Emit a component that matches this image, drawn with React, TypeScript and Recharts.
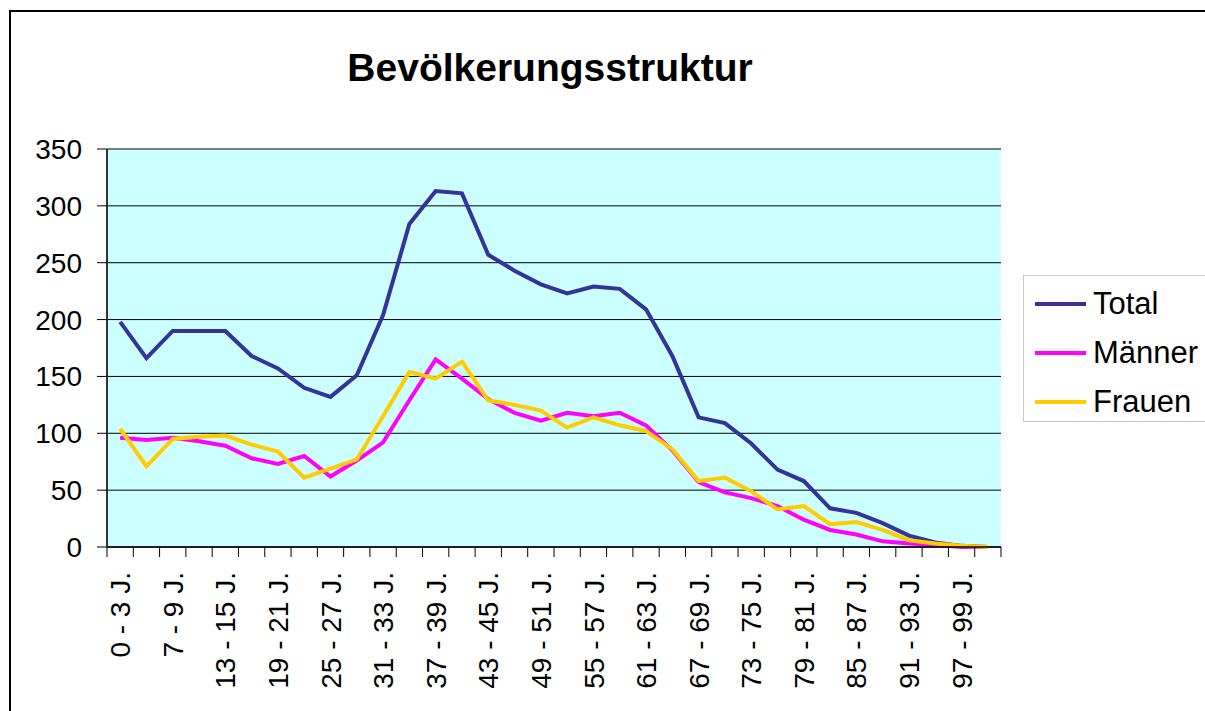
import { LineChart, Line, XAxis, YAxis, CartesianGrid, Legend } from 'recharts'

// Altersgruppen (jede zweite wird beschriftet)
const ageGroups = [
  '0 - 3 J.', '4 - 6 J.', '7 - 9 J.', '10 - 12 J.', '13 - 15 J.', '16 - 18 J.',
  '19 - 21 J.', '22 - 24 J.', '25 - 27 J.', '28 - 30 J.', '31 - 33 J.', '34 - 36 J.',
  '37 - 39 J.', '40 - 42 J.', '43 - 45 J.', '46 - 48 J.', '49 - 51 J.', '52 - 54 J.',
  '55 - 57 J.', '58 - 60 J.', '61 - 63 J.', '64 - 66 J.', '67 - 69 J.', '70 - 72 J.',
  '73 - 75 J.', '76 - 78 J.', '79 - 81 J.', '82 - 84 J.', '85 - 87 J.', '88 - 90 J.',
  '91 - 93 J.', '94 - 96 J.', '97 - 99 J.', '100 J. +',
]

const total = [198, 166, 190, 190, 190, 168, 157, 140, 132, 151, 204, 284, 313, 311, 257, 243, 231, 223, 229, 227, 209, 168, 114, 109, 91, 68, 58, 34, 30, 21, 10, 4, 1, 0]
const maenner = [96, 94, 96, 93, 89, 78, 73, 80, 62, 76, 92, 129, 165, 148, 130, 118, 111, 118, 115, 118, 107, 85, 57, 48, 43, 36, 24, 15, 11, 5, 3, 2, 0, 0]
const frauen = [104, 71, 95, 97, 98, 90, 84, 61, 69, 77, 115, 154, 148, 163, 129, 125, 120, 105, 114, 107, 102, 86, 58, 61, 49, 33, 36, 20, 22, 15, 6, 3, 1, 0]

const yTicks = [0, 50, 100, 150, 200, 250, 300, 350]

const seriesNames = ['Total', 'Männer', 'Frauen']
const seriesColors = ['#333399', '#FF00FF', '#FFCC00']

const data = ageGroups.map((age, i) => ({
  age,
  Total: total[i],
  Männer: maenner[i],
  Frauen: frauen[i],
}))

const W = 1197
const H = 703
const margin = { top: 141, right: 204, left: 0, bottom: 0 }
const Y_AXIS_W = 99
const X_AXIS_H = 164
const plotWidth = W - margin.left - margin.right - Y_AXIS_W
const halfBand = plotWidth / ageGroups.length / 2

// Striche an den Kategoriegrenzen, Text nur bei jeder zweiten Gruppe
const AgeTick = (props: any) => {
  const { x, y, payload } = props
  const i = payload.index
  return (
    <g>
      <line x1={x - halfBand} x2={x - halfBand} y1={y} y2={y + 10} stroke="#000" />
      {i === ageGroups.length - 1 && (
        <line x1={x + halfBand} x2={x + halfBand} y1={y} y2={y + 10} stroke="#000" />
      )}
      {i % 2 === 0 && (
        <text
          transform={`translate(${x},${y + 25}) rotate(-90)`}
          textAnchor="end"
          dy="0.36em"
          fontSize={28}
          fill="#000"
        >
          {payload.value}
        </text>
      )}
    </g>
  )
}

const LegendBox = ({ payload }: any) => {
  const items = [...(payload ?? [])].sort(
    (a: any, b: any) => seriesNames.indexOf(a.value) - seriesNames.indexOf(b.value)
  )
  return (
    <div
      style={{
        width: 190,
        height: 147,
        border: '1px solid #c8c8c8',
        borderRight: 'none',
        background: '#fff',
        paddingTop: 3,
        boxSizing: 'border-box',
      }}
    >
      {items.map((p: any) => (
        <div key={p.value} style={{ height: 49, display: 'flex', alignItems: 'center', whiteSpace: 'nowrap' }}>
          <span style={{ display: 'inline-block', width: 51, height: 4, background: p.color, marginLeft: 11, marginRight: 7 }} />
          <span style={{ fontSize: 31, lineHeight: '46px', color: '#000' }}>{p.value}</span>
        </div>
      ))}
    </div>
  )
}

export default function App() {
  return (
    <div
      style={{
        position: 'fixed',
        left: 0,
        top: 0,
        width: 1205,
        height: 711,
        overflow: 'hidden',
        background: '#fff',
        fontFamily: '"Liberation Sans", Arial, sans-serif',
      }}
    >
      <div
        style={{
          position: 'absolute',
          left: 9,
          top: 10,
          width: 1400,
          height: 900,
          borderLeft: '2px solid #000',
          borderTop: '2px solid #000',
        }}
      />
      <div
        style={{
          position: 'absolute',
          left: 8,
          top: 49,
          width: 1084,
          textAlign: 'center',
          fontSize: 39,
          lineHeight: '38px',
          fontWeight: 'bold',
          color: '#000',
        }}
      >
        Bevölkerungsstruktur
      </div>
      <div style={{ position: 'absolute', left: 8, top: 8 }}>
        <LineChart width={W} height={H} data={data} margin={margin}>
          <CartesianGrid vertical={false} stroke="#000" fill="#CCFFFF" fillOpacity={1} />
          <XAxis
            dataKey="age"
            scale="band"
            interval={0}
            height={X_AXIS_H}
            tickSize={0}
            tickMargin={0}
            tickLine={false}
            axisLine={{ stroke: '#000', strokeWidth: 1.5 }}
            tick={<AgeTick />}
          />
          <XAxis
            xAxisId="frame"
            orientation="top"
            dataKey="age"
            height={0}
            tick={false}
            tickLine={false}
            axisLine={{ stroke: '#808080', strokeWidth: 2 }}
          />
          <YAxis
            domain={[0, 350]}
            ticks={yTicks}
            width={Y_AXIS_W}
            tickSize={10}
            tickMargin={15}
            tickLine={{ stroke: '#000' }}
            axisLine={{ stroke: '#333', strokeWidth: 2 }}
            tick={{ fill: '#000', fontSize: 28 }}
          />
          <YAxis
            yAxisId="frame"
            orientation="right"
            domain={[0, 350]}
            width={0}
            tick={false}
            tickLine={false}
            axisLine={{ stroke: '#808080', strokeWidth: 2 }}
          />
          <Legend
            layout="vertical"
            align="center"
            verticalAlign="middle"
            content={<LegendBox />}
            wrapperStyle={{ left: 1015, top: 267, width: 190 }}
          />
          {seriesNames.map((name, i) => (
            <Line
              key={name}
              type="linear"
              dataKey={name}
              stroke={seriesColors[i]}
              strokeWidth={4}
              dot={false}
              activeDot={false}
              isAnimationActive={false}
            />
          ))}
        </LineChart>
      </div>
    </div>
  )
}
